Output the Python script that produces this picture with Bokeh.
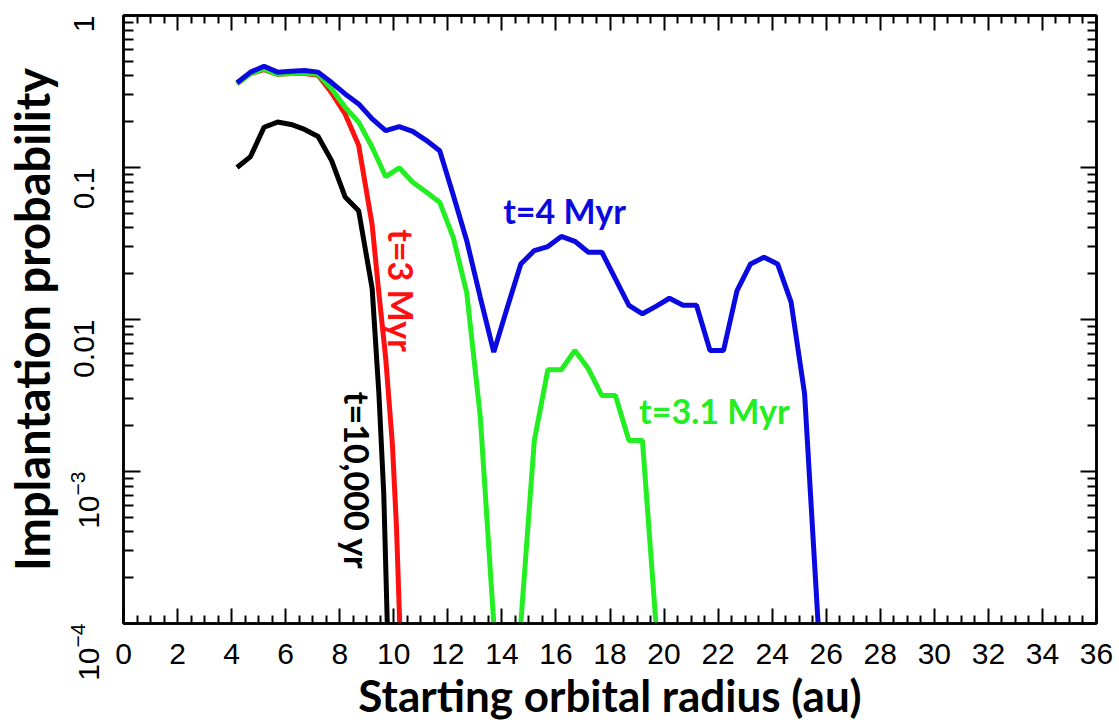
import math
from bokeh.plotting import figure
from bokeh.models import (Range1d, LinearAxis, LogAxis, FixedTicker,
                          LogTickFormatter, ColumnDataSource)
from bokeh.core.properties import value
from bokeh.embed import file_html
from bokeh.resources import INLINE

# ---------------- data ----------------
nan = float("nan")

x_4myr = [4.2, 4.7, 5.2, 5.7, 6.2, 6.7, 7.2, 7.7, 8.2, 8.7, 9.2, 9.7, 10.2, 10.7,
          11.2, 11.7, 12.2, 12.7, 13.2, 13.7, 14.2, 14.7, 15.2, 15.7, 16.2, 16.7,
          17.2, 17.7, 18.2, 18.7, 19.2, 19.7, 20.2, 20.7, 21.2, 21.7, 22.2, 22.7,
          23.2, 23.7, 24.2, 24.7, 25.2, 25.7]
p_4myr = [0.361, 0.424, 0.464, 0.424, 0.43, 0.435, 0.424, 0.362, 0.305, 0.262,
          0.209, 0.175, 0.186, 0.173, 0.151, 0.129, 0.066, 0.033, 0.014, 0.0061,
          0.012, 0.0232, 0.0284, 0.0302, 0.0352, 0.0327, 0.0277, 0.0277, 0.0185,
          0.0124, 0.0109, 0.0122, 0.0138, 0.0124, 0.0124, 0.00625, 0.00625,
          0.0155, 0.0232, 0.0257, 0.0232, 0.013, 0.00324, 0.0001]

x_31myr = [4.2, 4.7, 5.2, 5.7, 6.2, 6.7, 7.2, 7.7, 8.2, 8.7, 9.2, 9.7, 10.2, 10.7,
           11.2, 11.7, 12.2, 12.7, 13.2, 13.7, 14.2, 14.7, 15.2, 15.7, 16.2, 16.7,
           17.2, 17.7, 18.2, 18.7, 19.2, 19.7]
p_31myr = [0.355, 0.415, 0.445, 0.41, 0.415, 0.418, 0.41, 0.33, 0.249, 0.199,
           0.136, 0.087, 0.0995, 0.08, 0.069, 0.059, 0.0347, 0.015, 0.0023, 0.0001,
           nan, 0.0001, 0.0016, 0.00467, 0.00467, 0.00625, 0.00474, 0.00316,
           0.00316, 0.0016, 0.0016, 0.0001]

x_3myr = [4.2, 4.7, 5.2, 5.7, 6.2, 6.7, 7.2, 7.7, 8.2, 8.7, 9.2, 9.45, 9.7, 9.95,
          10.1, 10.22]
p_3myr = [0.355, 0.415, 0.44, 0.41, 0.415, 0.415, 0.405, 0.31, 0.225, 0.14,
          0.042, 0.0148, 0.0056, 0.0015, 0.00043, 0.0001]

x_10kyr = [4.2, 4.7, 5.2, 5.7, 6.2, 6.7, 7.2, 7.7, 8.2, 8.7, 9.2, 9.45, 9.63, 9.76]
p_10kyr = [0.1, 0.118, 0.184, 0.199, 0.192, 0.178, 0.16, 0.111, 0.064, 0.052,
           0.016, 0.00324, 0.00071, 0.0001]

series_names = ["t=10,000 yr", "t=3 Myr", "t=3.1 Myr", "t=4 Myr"]
series_colors = ["#000000", "#ff1010", "#22ee22", "#0a0ae0"]

x_major_ticks = [float(v) for v in range(0, 37, 2)]
x_minor_ticks = [v * 0.5 for v in range(0, 73) if v % 4 != 0]
y_major_ticks = [1e-4, 1e-3, 1e-2, 1e-1, 1.0]
y_minor_ticks = [k * 10.0 ** e for e in range(-4, 0) for k in range(2, 10)]

# ---------------- figure ----------------
p = figure(width=1119, height=723, x_range=Range1d(0, 36), y_range=Range1d(1e-4, 1),
           y_axis_type="log", output_backend="svg", toolbar_location=None,
           min_border_left=123, min_border_right=23, min_border_top=15,
           min_border_bottom=100)
p.xgrid.visible = False
p.ygrid.visible = False
p.outline_line_color = "black"
p.outline_line_width = 2.5
p.background_fill_color = "white"
p.border_fill_color = "white"

xt = FixedTicker(ticks=x_major_ticks, minor_ticks=x_minor_ticks)
yt = FixedTicker(ticks=y_major_ticks, minor_ticks=y_minor_ticks)


def style(ax, tick_in=15, minor_in=8):
    ax.axis_line_color = "black"
    ax.axis_line_width = 2.5
    ax.major_tick_in = tick_in
    ax.major_tick_out = 0
    ax.minor_tick_in = minor_in
    ax.minor_tick_out = 0
    ax.major_tick_line_width = 2
    ax.minor_tick_line_width = 2
    ax.major_tick_line_color = "black"
    ax.minor_tick_line_color = "black"
    ax.major_label_text_font = "Liberation Sans"
    ax.major_label_text_font_size = "30px"
    ax.major_label_text_color = "black"
    ax.axis_label_text_font = "Lato"
    ax.axis_label_text_font_style = "bold"
    ax.axis_label_text_color = "black"


xa = p.xaxis[0]
xa.ticker = xt
style(xa)
xa.major_label_standoff = 20
xa.axis_label = "Starting orbital radius (au)"
xa.axis_label_text_font_size = "44px"
xa.axis_label_standoff = 2

ya = p.yaxis[0]
ya.ticker = yt
ya.formatter = LogTickFormatter(min_exponent=3)
style(ya, tick_in=17, minor_in=10)
ya.major_label_orientation = math.pi / 2
ya.major_label_standoff = 40
ya.axis_label = "Implantation probability"
ya.axis_label_text_font_size = "47px"
ya.axis_label_standoff = -9

# tick marks along the top and right sides of the frame (labels not drawn)
top = LinearAxis(ticker=xt)
style(top, tick_in=15, minor_in=8)
top.major_label_text_font_size = "1px"
top.major_label_text_color = None
top.major_label_standoff = 0
p.add_layout(top, "above")

right = LogAxis(ticker=yt)
style(right, tick_in=16, minor_in=9)
right.major_label_text_font_size = "1px"
right.major_label_text_color = None
right.major_label_standoff = 0
p.add_layout(right, "right")

for xs, ys, c in [(x_10kyr, p_10kyr, series_colors[0]),
                  (x_3myr, p_3myr, series_colors[1]),
                  (x_31myr, p_31myr, series_colors[2]),
                  (x_4myr, p_4myr, series_colors[3])]:
    src = ColumnDataSource(dict(x=xs, y=ys))
    p.line("x", "y", source=src, line_color=c, line_width=5)

# curve annotations
lab = ColumnDataSource(dict(
    x=[8.66, 10.28, 21.86, 16.32],
    y=[8.7e-4, 0.0155, 0.00252, 0.0521],
    t=series_names,
    a=[-math.pi / 2, -math.pi / 2, 0.0, 0.0],
    c=series_colors,
))
p.text("x", "y", text="t", angle="a", text_color="c", source=lab,
       text_font=value("Lato"), text_font_style="bold", text_font_size="34px",
       text_align="center", text_baseline="middle")

open("out.html", "w").write(file_html(p, INLINE))
